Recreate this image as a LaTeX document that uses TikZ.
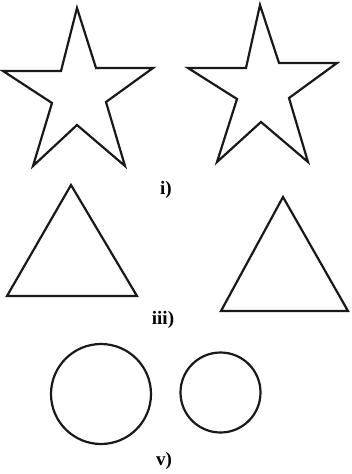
\documentclass[tikz,border=0pt]{standalone}
\usepackage{fontspec}
\setmainfont{Liberation Serif}
\begin{document}
\begin{tikzpicture}[x=1pt,y=-1pt,
  outline/.style={draw=black!90,line width=2.2pt,line join=miter},
  lbl/.style={font=\fontsize{19}{21}\selectfont\bfseries,inner sep=0pt}]
\useasboundingbox (0,0) rectangle (351,474);
% stars
\draw[outline] (77,8) -- (96,68) -- (153,68) -- (106,102) -- (125,166) -- (77,125)
  -- (33,166) -- (52,103) -- (3,71) -- (61,71) -- cycle;
\draw[outline] (260,5) -- (279,63) -- (337,63) -- (289,98) -- (308,162) -- (261,122)
  -- (217,162) -- (237,99) -- (188,68) -- (246,68) -- cycle;
\node[lbl] (l1) at (166,190) {i)};
% triangles
\draw[outline] (71,185) -- (137,296) -- (7,296) -- cycle;
\draw[outline] (283,197) -- (348,311) -- (221,311) -- cycle;
\node[lbl] (l3) at (163,320) {iii)};
% circles
\draw[outline] (101,394) circle[radius=50];
\draw[outline] (220.5,392.5) circle[radius=40];
\node[lbl] (l5) at (164,461) {v)};
\end{tikzpicture}
\end{document}
